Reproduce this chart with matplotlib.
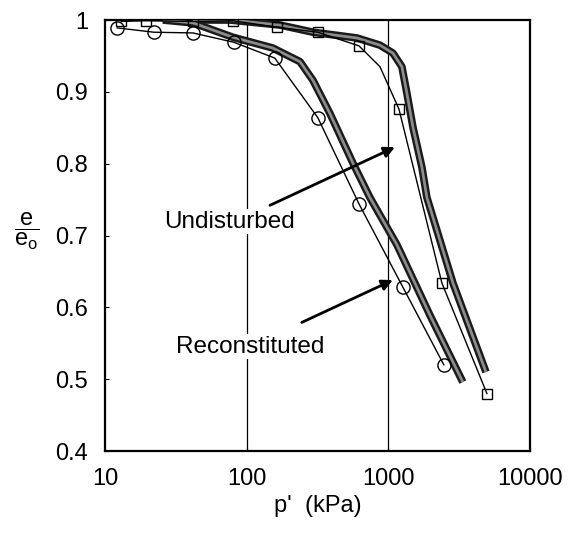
import matplotlib
matplotlib.use("Agg")
import numpy as np
import matplotlib.pyplot as plt
from matplotlib.ticker import FixedLocator, NullFormatter

plt.rcParams['font.family'] = ['Liberation Sans', 'DejaVu Sans']
plt.rcParams['mathtext.fontset'] = 'custom'
plt.rcParams['mathtext.rm'] = 'Liberation Sans'
plt.rcParams['mathtext.it'] = 'Liberation Sans'

# Reconstituted: test points (circles) and model
rec_p = [12.2, 22.2, 41.8, 81.3, 158, 318, 621, 1268, 2466]
rec_e = [0.989, 0.983, 0.982, 0.969, 0.947, 0.864, 0.744, 0.628, 0.520]
rec_model_p = [25.6, 41.8, 80, 153, 238, 294, 387, 562, 741, 1151, 1968, 3357]
rec_model_e = [1.0, 0.996, 0.976, 0.961, 0.942, 0.916, 0.870, 0.801, 0.753, 0.687, 0.589, 0.496]

# Undisturbed: test points (squares), thin fit and model
und_p = [13.0, 19.5, 41.8, 80, 164, 318, 621, 1189, 2388, 4966]
und_e = [0.998, 0.999, 0.998, 0.999, 0.990, 0.983, 0.964, 0.876, 0.634, 0.480]
und_fit_p = [13.0, 19.5, 41.8, 80, 164, 318, 621, 873, 1189, 2388, 4966]
und_fit_e = [0.998, 0.999, 0.998, 0.999, 0.990, 0.983, 0.964, 0.935, 0.876, 0.634, 0.480]
und_model_p = [41.8, 76, 172, 294, 600, 873, 1077, 1247, 1353, 1492, 1727, 1872, 2858, 4890]
und_model_e = [1.0, 1.0, 0.993, 0.983, 0.975, 0.965, 0.954, 0.935, 0.898, 0.851,
               0.795, 0.753, 0.634, 0.510]

x_ticks = [10, 100, 1000, 10000]
y_ticks = [0.4, 0.5, 0.6, 0.7, 0.8, 0.9, 1.0]
y_labels = ['0.4', '0.5', '0.6', '0.7', '0.8', '0.9', '1']

# label anchors (p, e) and arrow tips
und_text = (76.3, 0.719)
und_arrow = [(146, 0.742), (1114, 0.823)]
rec_text = (105.5, 0.545)
rec_arrow = [(245, 0.579), (1077, 0.638)]

fig = plt.figure(figsize=(5.73, 5.38), dpi=100)
ax = fig.add_axes([0.1832, 0.1617, 0.7417, 0.8011])

for xv in [100, 1000]:
    ax.axvline(xv, color='black', lw=0.9, zorder=1)

# thick model curves (dark outline, lighter core)
for px, ey in [(rec_model_p, rec_model_e), (und_model_p, und_model_e)]:
    ax.plot(px, ey, color='#1a1a1a', lw=5.5, solid_capstyle='butt',
            solid_joinstyle='round', zorder=3)
    ax.plot(px, ey, color='#8c8c8c', lw=2.0, solid_capstyle='butt',
            solid_joinstyle='round', zorder=4)

# thin fitted lines and test points
ax.plot(rec_p, rec_e, color='black', lw=1.0, zorder=5)
ax.plot(rec_p, rec_e, 'o', mfc='none', mec='black', ms=9.5, mew=1.0, zorder=6)
ax.plot(und_fit_p, und_fit_e, color='black', lw=1.0, zorder=5)
ax.plot(und_p, und_e, 's', mfc='none', mec='black', ms=7.5, mew=1.0, zorder=6)

ax.set_xscale('log')
ax.set_xlim(10, 10000)
ax.set_ylim(0.4, 1.0)
ax.xaxis.set_major_locator(FixedLocator(x_ticks))
ax.set_xticklabels([str(v) for v in x_ticks])
ax.xaxis.set_minor_formatter(NullFormatter())
ax.set_yticks(y_ticks)
ax.set_yticklabels(y_labels)
ax.tick_params(axis='both', which='both', direction='in', length=3, labelsize=17, pad=12)
ax.tick_params(axis='x', which='minor', length=0)
for s in ax.spines.values():
    s.set_linewidth(1.6)

ax.set_xlabel("p'  (kPa)", fontsize=17, labelpad=4)
fig.text(27 / 573, 1 - 231 / 538, r'$\dfrac{\rm e}{\rm e_o}$', fontsize=17,
         ha='center', va='center')

box = dict(facecolor='white', edgecolor='none', pad=1)
ax.text(*und_text, 'Undisturbed', fontsize=17.5, ha='center', va='center',
        bbox=box, zorder=7)
ax.text(*rec_text, 'Reconstituted', fontsize=17.5, ha='center', va='center',
        bbox=box, zorder=7)
for start, tip in [und_arrow, rec_arrow]:
    ax.annotate('', xy=tip, xytext=start,
                arrowprops=dict(arrowstyle='-|>', color='black', lw=2,
                                mutation_scale=16, shrinkA=0, shrinkB=0),
                zorder=8)

fig.savefig('out.png', dpi=100)
